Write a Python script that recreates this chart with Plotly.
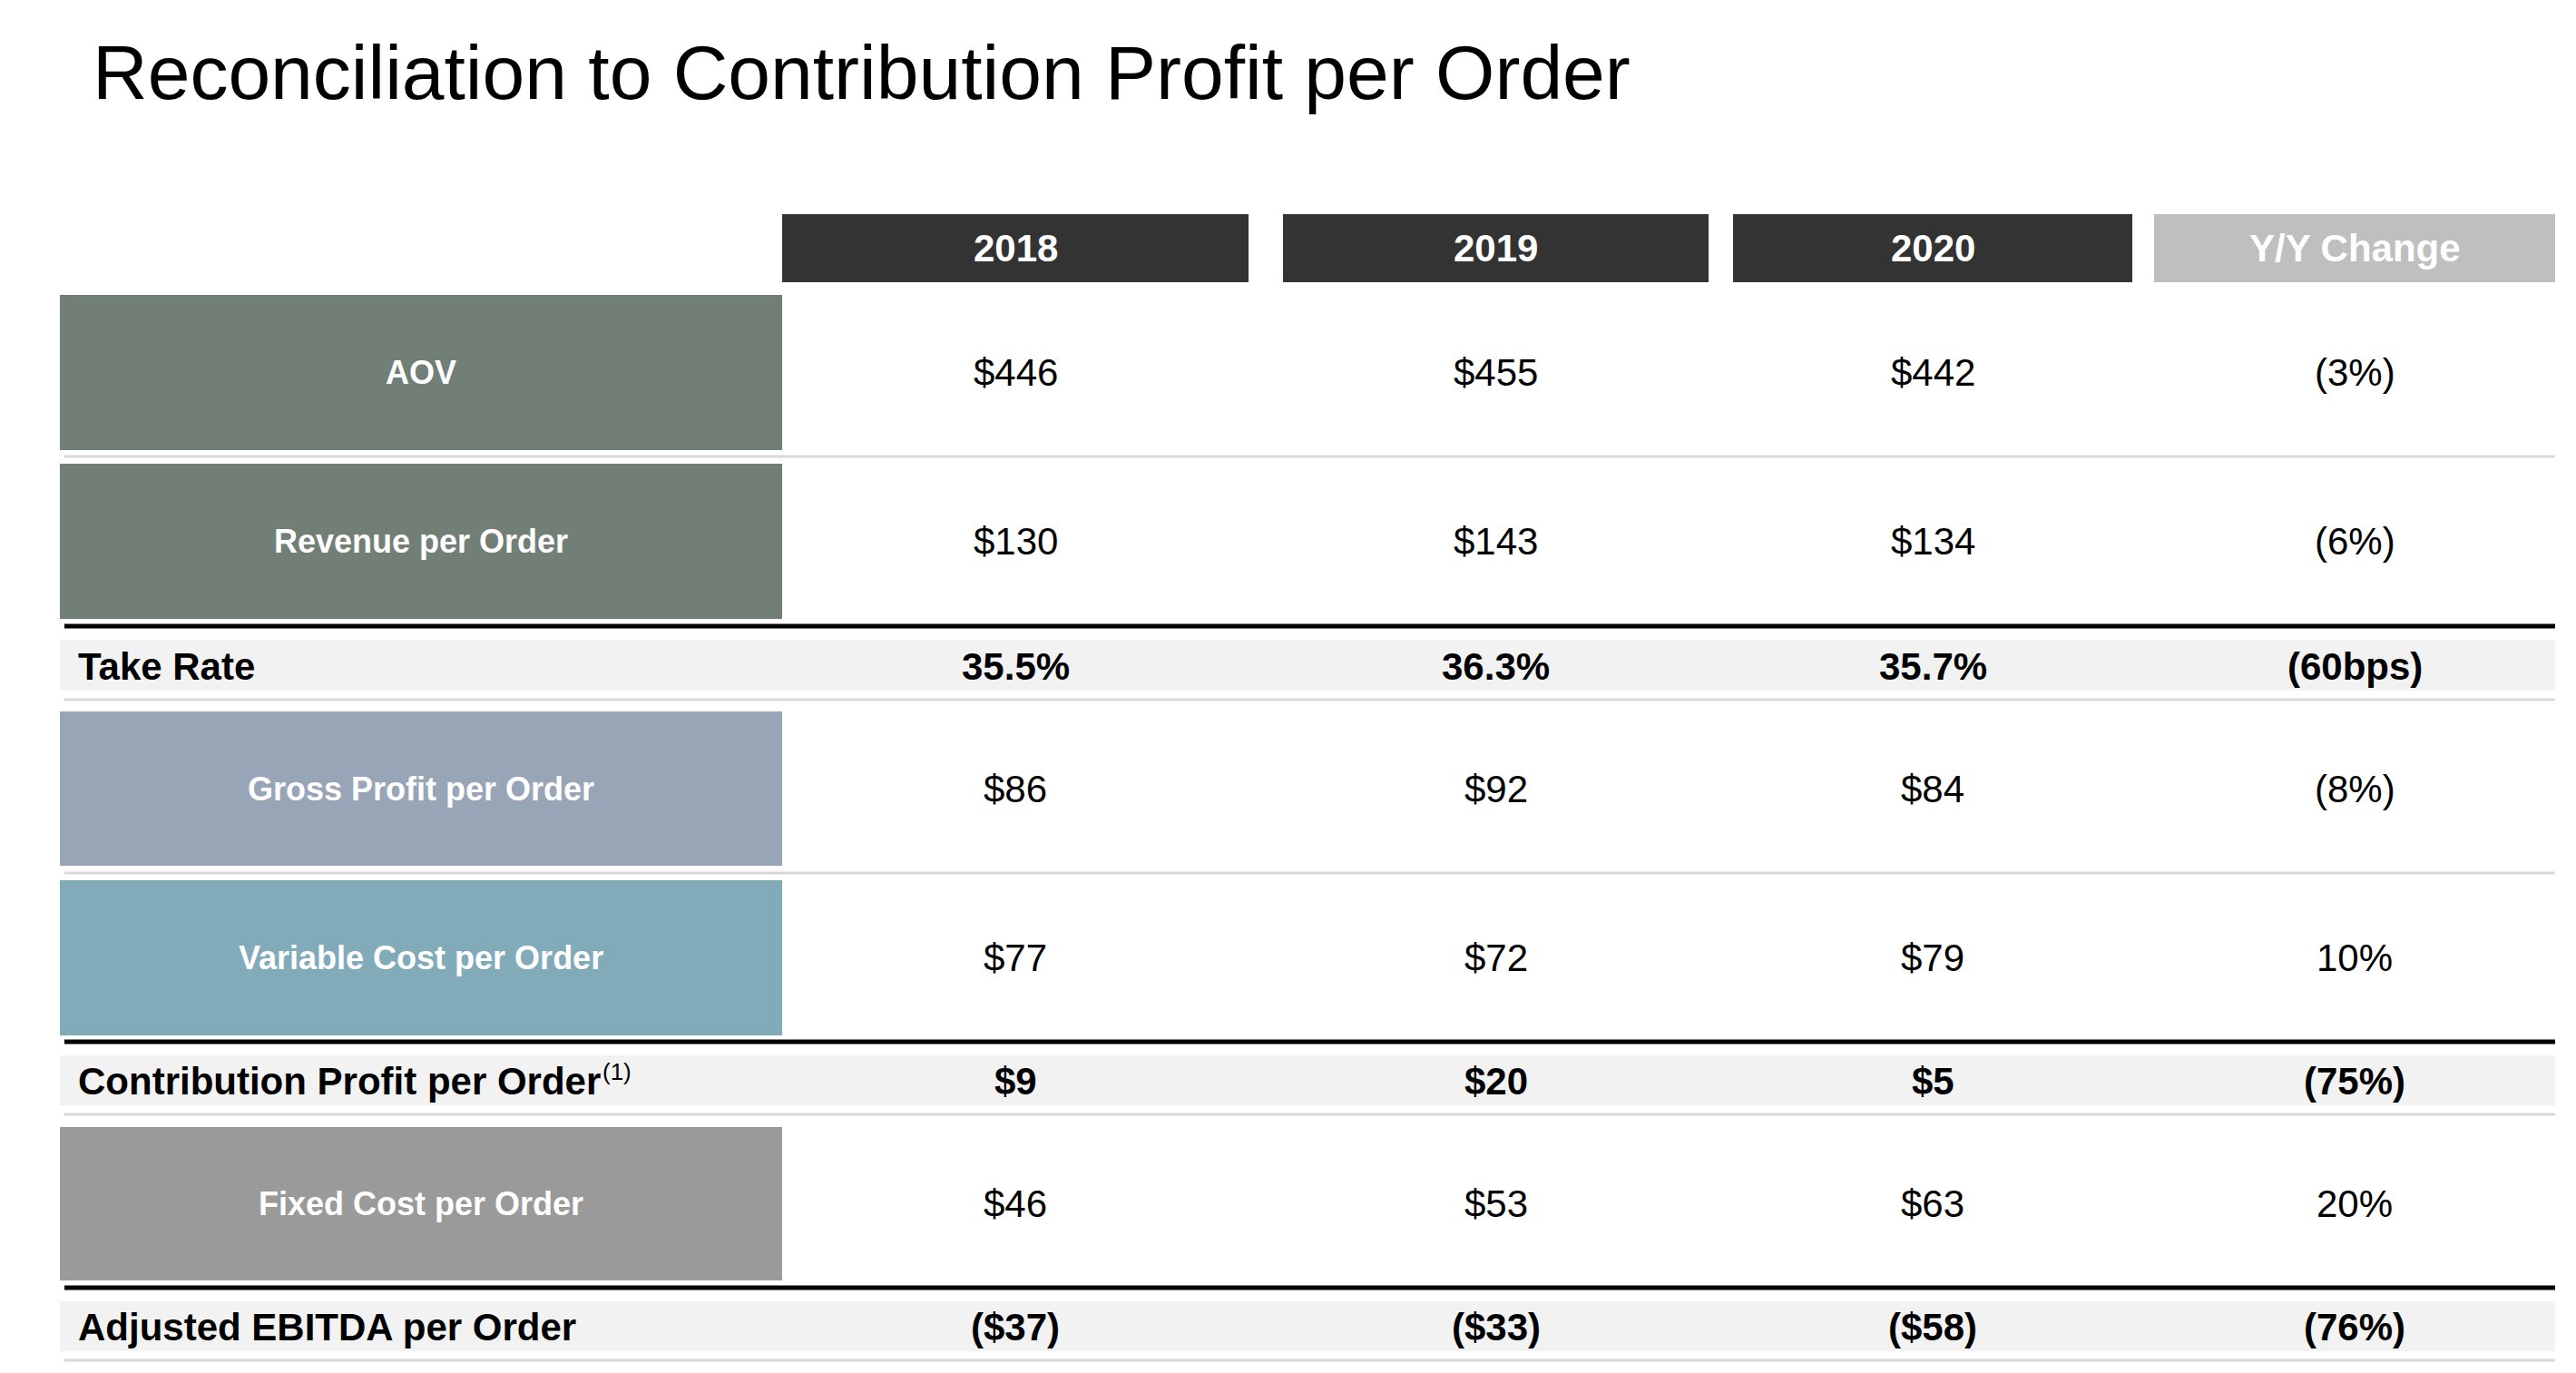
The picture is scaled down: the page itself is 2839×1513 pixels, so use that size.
import plotly.graph_objects as go

# ---------------- data ----------------
title_text = "Reconciliation to Contribution Profit per Order"
header_labels = ["2018", "2019", "2020", "Y/Y Change"]

row_labels = ["AOV", "Revenue per Order", "Take Rate", "Gross Profit per Order",
              "Variable Cost per Order", "Contribution Profit per Order",
              "Fixed Cost per Order", "Adjusted EBITDA per Order"]
row_kinds = ["box", "box", "sum", "box", "box", "sum", "box", "sum"]
row_notes = ["", "", "", "", "", "(1)", "", ""]

aov = [446, 455, 442]
aov_yoy = -3
revenue = [130, 143, 134]
revenue_yoy = -6
take_rate = [35.5, 36.3, 35.7]
take_rate_yoy_bps = -60
gross_profit = [86, 92, 84]
gross_profit_yoy = -8
variable_cost = [77, 72, 79]
variable_cost_yoy = 10
contribution_profit = [9, 20, 5]
contribution_profit_yoy = -75
fixed_cost = [46, 53, 63]
fixed_cost_yoy = 20
adj_ebitda = [-37, -33, -58]
adj_ebitda_yoy = -76


def money(v):
    return f"${v}" if v >= 0 else f"(${-v})"


def pct(v):
    return f"{v}%" if v >= 0 else f"({-v}%)"


def pct1(v):
    return f"{v:.1f}%"


def bps(v):
    return f"{v}bps" if v >= 0 else f"({-v}bps)"


row_values = [
    [money(v) for v in aov] + [pct(aov_yoy)],
    [money(v) for v in revenue] + [pct(revenue_yoy)],
    [pct1(v) for v in take_rate] + [bps(take_rate_yoy_bps)],
    [money(v) for v in gross_profit] + [pct(gross_profit_yoy)],
    [money(v) for v in variable_cost] + [pct(variable_cost_yoy)],
    [money(v) for v in contribution_profit] + [pct(contribution_profit_yoy)],
    [money(v) for v in fixed_cost] + [pct(fixed_cost_yoy)],
    [money(v) for v in adj_ebitda] + [pct(adj_ebitda_yoy)],
]

# ---------------- styling / layout ----------------
W, H = 2839, 1513
FONT = "Liberation Sans, Arial, Helvetica, sans-serif"
box_colors = ["#717f77", "#717f77", None, "#97a5b7", "#82abba", None, "#9a9a9a", None]
header_colors = ["#333333", "#333333", "#333333", "#bfbfbf"]
col_spans = [(862, 1376), (1414, 1883), (1910, 2350), (2374, 2816)]
label_span = (66, 862)
header_y = (236, 311)
row_spans = [(325, 496), (511, 682), (705, 761), (784, 954),
             (970, 1141), (1163, 1218), (1242, 1411), (1434, 1489)]
# separator after each row: (y, color, width)
separators = [(503, "#d9d9d9", 3), (690, "#000000", 5), (771, "#d9d9d9", 3),
              (962, "#d9d9d9", 3), (1148, "#000000", 5), (1228, "#d9d9d9", 3),
              (1419, "#000000", 5), (1499, "#d9d9d9", 3)]
line_span = (71, 2816)

shapes = []
annotations = []

# header boxes
for (x0, x1), lab, col in zip(col_spans, header_labels, header_colors):
    shapes.append(dict(type="rect", xref="x", yref="y", x0=x0, x1=x1,
                       y0=header_y[0], y1=header_y[1], fillcolor=col, line_width=0, layer="below"))
    annotations.append(dict(xref="x", yref="y", x=(x0 + x1) / 2, y=(header_y[0] + header_y[1]) / 2,
                            text=f"<b>{lab}</b>", showarrow=False,
                            font=dict(family=FONT, size=42, color="#ffffff"),
                            xanchor="center", yanchor="middle"))

for i, (lab, kind, note, vals, (y0, y1), bc) in enumerate(
        zip(row_labels, row_kinds, row_notes, row_values, row_spans, box_colors)):
    ym = (y0 + y1) / 2
    if kind == "box":
        shapes.append(dict(type="rect", xref="x", yref="y", x0=label_span[0], x1=label_span[1],
                           y0=y0, y1=y1, fillcolor=bc, line_width=0, layer="below"))
        annotations.append(dict(xref="x", yref="y", x=(label_span[0] + label_span[1]) / 2, y=ym,
                                text=f"<b>{lab}</b>", showarrow=False,
                                font=dict(family=FONT, size=36, color="#ffffff"),
                                xanchor="center", yanchor="middle"))
        for (x0, x1), v in zip(col_spans, vals):
            annotations.append(dict(xref="x", yref="y", x=(x0 + x1) / 2, y=ym, text=v,
                                    showarrow=False, font=dict(family=FONT, size=42, color="#000000"),
                                    xanchor="center", yanchor="middle"))
    else:
        shapes.append(dict(type="rect", xref="x", yref="y", x0=label_span[0], x1=line_span[1],
                           y0=y0, y1=y1, fillcolor="#f2f2f2", line_width=0, layer="below"))
        annotations.append(dict(xref="x", yref="y", x=84, y=ym + 1, text=f"<b>{lab}</b>",
                                showarrow=False, font=dict(family=FONT, size=42, color="#000000"),
                                xanchor="left", yanchor="middle"))
        if note:
            annotations.append(dict(xref="x", yref="y", x=662, y=ym - 10, text=note,
                                    showarrow=False, font=dict(family=FONT, size=26, color="#000000"),
                                    xanchor="left", yanchor="middle"))
        for (x0, x1), v in zip(col_spans, vals):
            annotations.append(dict(xref="x", yref="y", x=(x0 + x1) / 2, y=ym + 1, text=f"<b>{v}</b>",
                                    showarrow=False, font=dict(family=FONT, size=42, color="#000000"),
                                    xanchor="center", yanchor="middle"))

for (y, c, w) in separators:
    shapes.append(dict(type="line", xref="x", yref="y", x0=line_span[0], x1=line_span[1],
                       y0=y, y1=y, line=dict(color=c, width=w)))

# title
annotations.append(dict(xref="x", yref="y", x=100, y=80, text=title_text, showarrow=False,
                        font=dict(family=FONT, size=84, color="#000000"),
                        xanchor="left", yanchor="middle"))

fig = go.Figure()
fig.add_trace(go.Scatter(x=[0, W], y=[0, H], mode="markers",
                         marker=dict(opacity=0), hoverinfo="skip", showlegend=False))
fig.update_layout(
    width=W, height=H,
    margin=dict(l=0, r=0, t=0, b=0),
    paper_bgcolor="#ffffff", plot_bgcolor="#ffffff",
    xaxis=dict(range=[0, W], visible=False, fixedrange=True),
    yaxis=dict(range=[H, 0], visible=False, fixedrange=True),
    shapes=shapes, annotations=annotations, showlegend=False,
)

fig.write_html("out.html", config={"displayModeBar": False},
               post_script="document.body.style.margin='0';document.body.style.overflow='hidden';")
